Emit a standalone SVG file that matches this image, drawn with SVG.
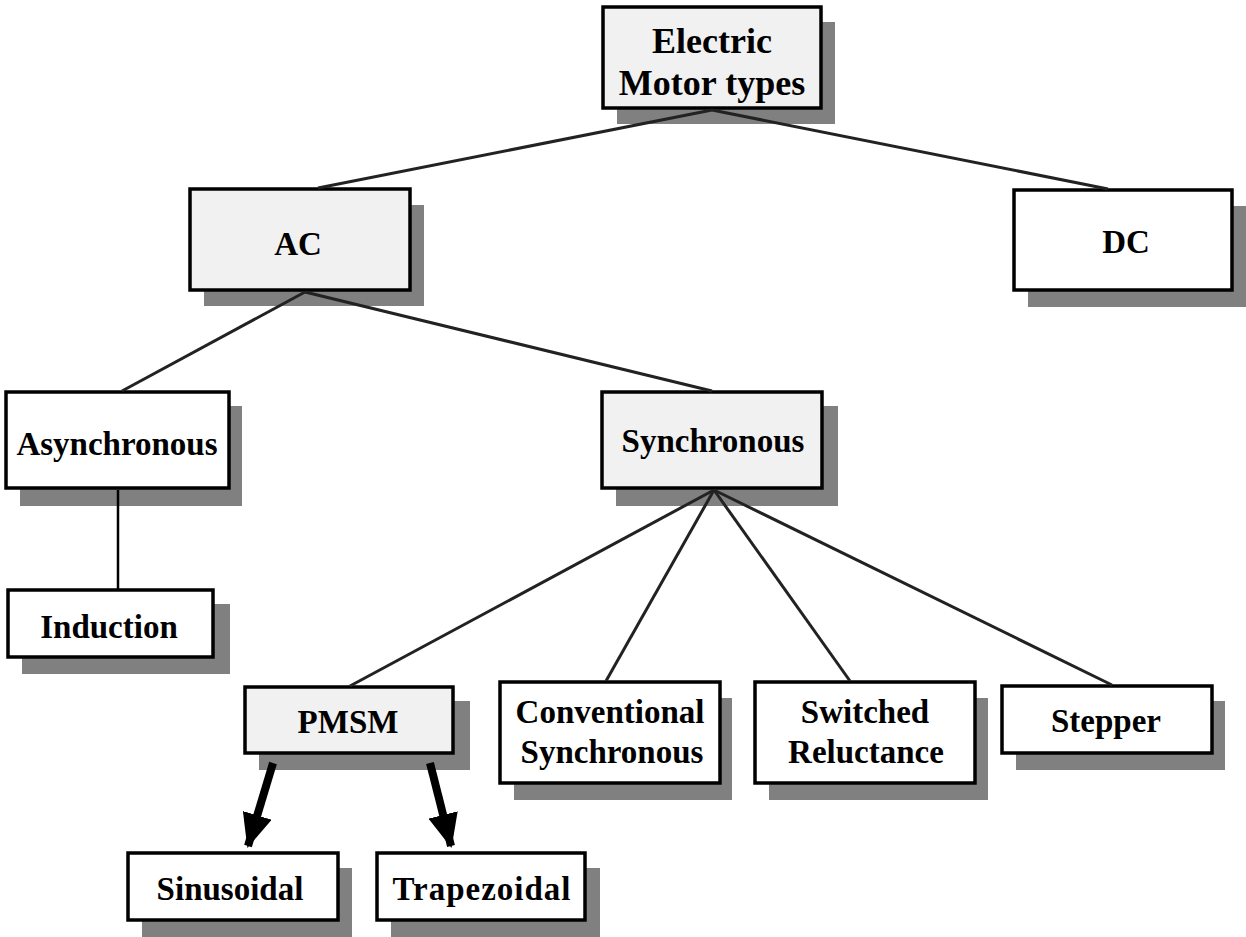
<svg xmlns="http://www.w3.org/2000/svg" width="1246" height="937" viewBox="0 0 1246 937">
<defs>
<style>
.sh{fill:#808080}
.bx{stroke:#000;stroke-width:3.5;fill:#fff}
.gy{fill:#f1f1f1}
.t{font-family:"Liberation Serif","Times New Roman",serif;font-weight:bold;font-size:33px;fill:#000;text-anchor:middle}
.ln{stroke:#222;stroke-width:3;fill:none}
.ar{stroke:#000;stroke-width:8;fill:none}
</style>
<marker id="ah" markerUnits="userSpaceOnUse" viewBox="0 0 34 30" refX="32" refY="15" markerWidth="34" markerHeight="30" orient="auto">
<path d="M0,0 L34,15 L0,30 Z" fill="#000"/>
</marker>
</defs>
<rect width="1246" height="937" fill="#fff"/>
<g id="n-electric">
<rect class="sh" x="617" y="22" width="218" height="102"/>
<rect class="bx gy" x="603" y="7" width="218" height="101"/>
<text class="t" x="712" y="53" style="font-size:36px">Electric</text>
<text class="t" x="712" y="95" style="font-size:36px">Motor types</text>
</g>
<g id="n-ac">
<rect class="sh" x="204" y="205" width="220" height="101"/>
<rect class="bx gy" x="190" y="189" width="220" height="101"/>
<text class="t" x="298" y="255">AC</text>
</g>
<g id="n-dc">
<rect class="sh" x="1028" y="206" width="218" height="101"/>
<rect class="bx" x="1014" y="190" width="218" height="100"/>
<text class="t" x="1126" y="253">DC</text>
</g>
<g id="n-asynchronous">
<rect class="sh" x="20" y="406" width="222" height="100"/>
<rect class="bx" x="6" y="392" width="223" height="96"/>
<text class="t" x="117" y="455">Asynchronous</text>
</g>
<g id="n-induction">
<rect class="sh" x="22" y="604" width="208" height="70"/>
<rect class="bx" x="8" y="590" width="205" height="67"/>
<text class="t" x="109" y="638">Induction</text>
</g>
<g id="n-synchronous">
<rect class="sh" x="616" y="406" width="222" height="100"/>
<rect class="bx gy" x="602" y="392" width="220" height="96"/>
<text class="t" x="713" y="452">Synchronous</text>
</g>
<g id="n-pmsm">
<rect class="sh" x="259" y="701" width="211" height="69"/>
<rect class="bx gy" x="245" y="687" width="208" height="66"/>
<text class="t" x="348" y="733">PMSM</text>
</g>
<g id="n-conventional">
<rect class="sh" x="514" y="698" width="218" height="102"/>
<rect class="bx" x="500" y="682" width="220" height="101"/>
<text class="t" x="610" y="723">Conventional</text>
<text class="t" x="612" y="763">Synchronous</text>
</g>
<g id="n-switched">
<rect class="sh" x="769" y="698" width="219" height="102"/>
<rect class="bx" x="755" y="682" width="220" height="101"/>
<text class="t" x="865" y="723">Switched</text>
<text class="t" x="866" y="763">Reluctance</text>
</g>
<g id="n-stepper">
<rect class="sh" x="1016" y="701" width="209" height="69"/>
<rect class="bx" x="1002" y="686" width="210" height="67"/>
<text class="t" x="1106" y="732">Stepper</text>
</g>
<g id="n-sinusoidal">
<rect class="sh" x="142" y="868" width="210" height="69"/>
<rect class="bx" x="128" y="853" width="210" height="67"/>
<text class="t" x="230" y="900">Sinusoidal</text>
</g>
<g id="n-trapezoidal">
<rect class="sh" x="391" y="868" width="209" height="69"/>
<rect class="bx" x="377" y="853" width="208" height="67"/>
<text class="t" x="482" y="900" style="letter-spacing:1px">Trapezoidal</text>
</g>
<g id="connectors">
<line class="ln" x1="712" y1="110" x2="318" y2="188"/>
<line class="ln" x1="712" y1="110" x2="1108" y2="189"/>
<line class="ln" x1="305" y1="292" x2="122" y2="391"/>
<line class="ln" x1="305" y1="292" x2="712" y2="391"/>
<line class="ln" x1="118" y1="490" x2="118" y2="589" style="stroke:#000;stroke-width:2.5"/>
<line class="ln" x1="714" y1="490" x2="350" y2="686"/>
<line class="ln" x1="714" y1="490" x2="606" y2="681"/>
<line class="ln" x1="714" y1="490" x2="850" y2="681"/>
<line class="ln" x1="714" y1="490" x2="1112" y2="685"/>
<line class="ar" x1="273" y1="763" x2="248" y2="846" marker-end="url(#ah)"/>
<line class="ar" x1="430" y1="763" x2="451" y2="846" marker-end="url(#ah)"/>
</g>
</svg>
